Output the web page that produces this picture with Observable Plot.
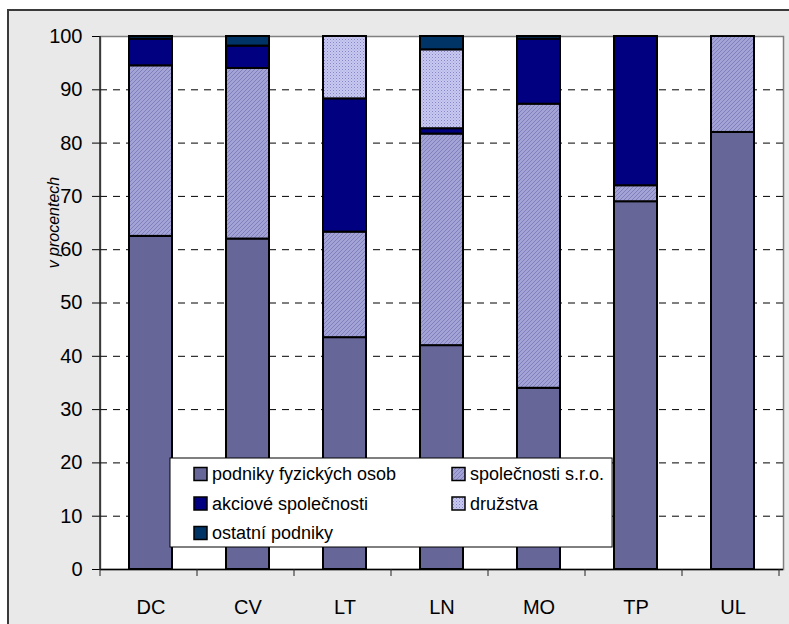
<!DOCTYPE html>
<html>
<head>
<meta charset="utf-8">
<script src="https://cdn.jsdelivr.net/npm/d3@7"></script>
<script src="https://cdn.jsdelivr.net/npm/@observablehq/plot@0.6"></script>
<style>
  html, body { margin: 0; padding: 0; background: white; }
  #chart { width: 789px; height: 624px; overflow: hidden; }
</style>
</head>
<body>
<div id="chart"></div>
<script>
// ---- data ----
const categories = ["DC", "CV", "LT", "LN", "MO", "TP", "UL"];
const seriesNames = ["podniky fyzických osob", "společnosti s.r.o.", "akciové společnosti", "družstva", "ostatní podniky"];
const fyzicke   = [62.5, 62.0, 43.5, 42.0, 34.0, 69.0, 82.0];
const sro       = [32.0, 32.0, 19.8, 39.7, 53.3,  3.0, 18.0];
const akciove   = [ 5.0,  4.2, 25.0,  1.0, 12.2, 28.0,  0.0];
const druzstva  = [ 0.0,  0.0, 11.7, 14.8,  0.0,  0.0,  0.0];
const ostatni   = [ 0.5,  1.8,  0.0,  2.5,  0.5,  0.0,  0.0];
const yTicks = [0, 10, 20, 30, 40, 50, 60, 70, 80, 90, 100];
const gridTicks = [10, 20, 30, 40, 50, 60, 70, 80, 90];
const yLabel = "v procentech";

const seriesValues = [fyzicke, sro, akciove, druzstva, ostatni];
const seriesFills = ["#666699", "url(#pat-sro)", "#000080", "url(#pat-druz)", "#003366"];

const rows = [];
seriesNames.forEach((s, si) => {
  categories.forEach((c, ci) => {
    const v = seriesValues[si][ci];
    if (v > 0) rows.push({cat: c, series: s, value: v});
  });
});

const font = "'Liberation Sans', Arial, sans-serif";

const chart = Plot.plot({
  width: 789,
  height: 624,
  marginLeft: 100,
  marginRight: 6,
  marginTop: 36,
  marginBottom: 55,
  style: {background: "none", fontFamily: font, fontSize: "20px", color: "#000", overflow: "visible"},
  x: {domain: categories, paddingInner: 0.56, paddingOuter: 0.28, label: null},
  y: {domain: [0, 100], label: null},
  color: {domain: seriesNames, range: seriesFills},
  marks: [
    Plot.frame({fill: "white", stroke: "#808080", strokeWidth: 1.5}),
    Plot.gridY(gridTicks, {stroke: "#000", strokeOpacity: 1, strokeWidth: 1, strokeDasharray: "7,6"}),
    Plot.barY(rows, {x: "cat", y: "value", fill: "series", stroke: "#000", strokeWidth: 2, order: seriesNames}),
    Plot.axisY(yTicks, {tickSize: 8, tickPadding: 10, fontSize: 20, stroke: "#000", label: null}),
    Plot.axisX({tickSize: 0, tickPadding: 30, fontSize: 20, label: null}),
    Plot.ruleY([0], {stroke: "#000", strokeWidth: 1.5})
  ]
});

document.getElementById("chart").appendChild(chart);

const svg = d3.select(chart);
const xs = chart.scale("x");
const ys = chart.scale("y");
const x0 = xs.range[0], x1 = xs.range[1];
const yTop = ys.apply(100), yBot = ys.apply(0);

// patterns
const defs = svg.insert("defs", ":first-child");
const p1 = defs.append("pattern").attr("id", "pat-sro").attr("patternUnits", "userSpaceOnUse")
  .attr("width", 4).attr("height", 4);
p1.append("rect").attr("width", 4).attr("height", 4).attr("fill", "#a3a3d6");
p1.append("path").attr("d", "M0,4L4,0M-1,1L1,-1M3,5L5,3").attr("stroke", "#7f7fbd").attr("stroke-width", 1);
const p2 = defs.append("pattern").attr("id", "pat-druz").attr("patternUnits", "userSpaceOnUse")
  .attr("width", 3).attr("height", 3);
p2.append("rect").attr("width", 3).attr("height", 3).attr("fill", "#c8c8f0");
p2.append("rect").attr("width", 1).attr("height", 1).attr("fill", "#8686c6");
p2.append("rect").attr("x", 1.5).attr("y", 1.5).attr("width", 1).attr("height", 1).attr("fill", "#a0a0d8");

// outer background panel
svg.insert("rect", "defs + *")
  .attr("x", 8).attr("y", 10).attr("width", 820).attr("height", 700)
  .attr("fill", "#e9e9e9").attr("stroke", "#3a3a3a").attr("stroke-width", 2);

// left axis line
svg.append("line").attr("x1", x0).attr("x2", x0).attr("y1", yTop).attr("y2", yBot + 1)
  .attr("stroke", "#222").attr("stroke-width", 1.5);

// x ticks at band boundaries
const step = xs.step;
const bounds = d3.range(categories.length + 1).map(i => x0 + i * step);
svg.append("g").selectAll("line").data(bounds).join("line")
  .attr("x1", d => d).attr("x2", d => d).attr("y1", yBot).attr("y2", yBot + 7)
  .attr("stroke", "#222").attr("stroke-width", 1);

// y axis title
svg.append("text")
  .attr("transform", `translate(53, ${ys.apply(65)}) rotate(-90)`)
  .attr("text-anchor", "middle").attr("dominant-baseline", "central")
  .style("font-family", font).style("font-size", "16px").style("font-style", "italic")
  .attr("fill", "#000").text(yLabel);

// legend
const lg = svg.append("g").attr("text-anchor", "start");
const box = lg.append("rect").attr("x", 170).attr("y", 458).attr("height", 89)
  .attr("fill", "white").attr("stroke", "#000").attr("stroke-width", 1);
const colX = [194, 452];
const rowY = [474, 503.5, 533];
let maxRight = 0;
seriesNames.forEach((s, i) => {
  const cx = colX[i % 2], cy = rowY[Math.floor(i / 2)];
  lg.append("rect").attr("x", cx).attr("y", cy - 6.5).attr("width", 13).attr("height", 13)
    .attr("fill", seriesFills[i]).attr("stroke", "#000").attr("stroke-width", 1.5);
  const t = lg.append("text").attr("x", cx + 18).attr("y", cy).attr("dominant-baseline", "central")
    .attr("text-anchor", "start")
    .style("font-family", font).style("font-size", "18px").attr("fill", "#000").text(s);
  maxRight = Math.max(maxRight, cx + 18 + t.node().getComputedTextLength());
});
box.attr("width", maxRight + 8 - 170);
</script>
</body>
</html>
